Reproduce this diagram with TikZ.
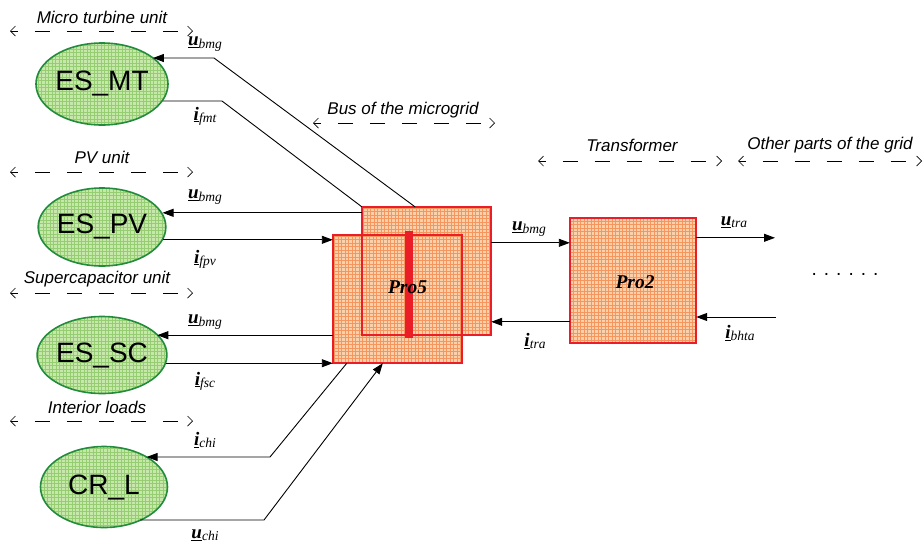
\documentclass[tikz,border=0pt]{standalone}
\usepackage{fontspec}
\setmainfont{Liberation Sans}
\newfontfamily\serifx{Liberation Serif}
\usetikzlibrary{shapes.geometric,arrows.meta,calc}
\definecolor{ellfill}{RGB}{198,232,170}
\definecolor{ellgrid}{RGB}{150,205,115}
\definecolor{ellline}{RGB}{35,140,60}
\definecolor{boxfill}{RGB}{252,208,170}
\definecolor{boxgrid}{RGB}{245,150,95}
\definecolor{boxline}{RGB}{235,30,40}
\newcommand\sig[2]{{\serifx\fontsize{19}{19}\selectfont\bfseries\itshape\underline{#1}}{\serifx\fontsize{13.5}{13.5}\selectfont\itshape\raisebox{-0.35ex}{#2}}}
\tikzset{
  ell/.style={ellipse, draw=ellline, line width=1.6pt, fill=ellfill, inner sep=0pt,
    font=\fontsize{28}{28}\selectfont,
    path picture={\draw[ellgrid,line width=0.3pt] (path picture bounding box.south west) grid[step=3.5pt] (path picture bounding box.north east);}},
  pbox/.style={rectangle, fill=boxfill, inner sep=0pt,
    path picture={\draw[boxgrid,line width=0.3pt] (path picture bounding box.south west) grid[step=3.5pt] (path picture bounding box.north east);}},
  pborder/.style={draw=boxline, line width=1.6pt},
  conn/.style={draw, line width=0.9pt},
  arr/.style={conn, -{Triangle[length=11pt,width=8pt]}},
  annot/.style={line width=0.7pt, dash pattern=on 15pt off 17pt, dash phase=8pt,
    {Straight Barb[length=5pt,width=10pt]}-{Straight Barb[length=5pt,width=10pt]}},
  atext/.style={font=\fontsize{17}{17}\selectfont\itshape, inner sep=0pt},
  lbl/.style={inner sep=0pt}
}
\begin{document}
\begin{tikzpicture}[x=1pt,y=-1pt]
\useasboundingbox (0,0) rectangle (924,547);
% ellipses
\node[ell, minimum width=126pt, minimum height=82pt] (MT) at (102,84) {ES\_MT};
\node[ell, minimum width=127pt, minimum height=78pt] (PV) at (102,227) {ES\_PV};
\node[ell, minimum width=127pt, minimum height=77pt] (SC) at (102,355) {ES\_SC};
\node[ell, minimum width=127pt, minimum height=81pt] (CR) at (104,487) {CR\_L};
% boxes
\node[pbox, minimum width=129pt, minimum height=128pt] (P5b) at (426.5,271) {};
\node[pbox, minimum width=129pt, minimum height=128pt] (P5f) at (397.5,299) {};
\node[pbox, minimum width=126pt, minimum height=125pt] (Pro2) at (633,280.5) {};
\draw[pborder] (P5b.south west) rectangle (P5b.north east);
\draw[pborder] (P5f.south west) rectangle (P5f.north east);
\draw[pborder] (Pro2.south west) rectangle (Pro2.north east);
\fill[boxline] (405,231) rectangle (413,338);
\node[lbl, font=\serifx\fontsize{19.5}{19.5}\selectfont\bfseries\itshape] (t5) at (407.5,287) {Pro5};
\node[lbl, font=\serifx\fontsize{19.5}{19.5}\selectfont\bfseries\itshape] (t2) at (635,282) {Pro2};
% annotation arrows
\coordinate (a1l) at (10,31); \coordinate (a1r) at (193,31);
\draw[annot] (a1l) -- (a1r);
\node[atext] (n1) at (102,17) {Micro turbine unit};
\coordinate (a2l) at (10,172); \coordinate (a2r) at (193,172);
\draw[annot] (a2l) -- (a2r);
\node[atext] (n2) at (102,157) {PV unit};
\coordinate (a3l) at (10,293); \coordinate (a3r) at (193,293);
\draw[annot] (a3l) -- (a3r);
\node[atext] (n3) at (97,279) {Supercapacitor unit};
\coordinate (a4l) at (10,421); \coordinate (a4r) at (193,421);
\draw[annot] (a4l) -- (a4r);
\node[atext] (n4) at (97,407) {Interior loads};
\coordinate (a5l) at (313,123); \coordinate (a5r) at (495,123);
\draw[annot] (a5l) -- (a5r);
\node[atext] (n5) at (403,110) {Bus of the microgrid};
\coordinate (a6l) at (538,161); \coordinate (a6r) at (722,161);
\draw[annot] (a6l) -- (a6r);
\node[atext] (n6) at (632,145) {Transformer};
\coordinate (a7l) at (738,161); \coordinate (a7r) at (922,161);
\draw[annot] (a7l) -- (a7r);
\node[atext] (n7) at (830,145) {Other parts of the grid};
% connectors to ES_MT
\coordinate (mt1) at (214,58);
\draw[arr] ([xshift=-11.5pt]P5b.north) -- (mt1) -- (MT.28 |- mt1);
\node[lbl] (l1) at (205,44) {\sig{u}{bmg}};
\coordinate (mt2) at (222,101);
\draw[conn] (MT.-16.5 |- mt2) -- (mt2) -- (P5b.north west);
\node[lbl] (l2) at (205,116) {\sig{i}{fmt}};
% ES_PV
\coordinate (pv1) at ([yshift=-6pt]P5b.north west);
\draw[arr] (pv1) -- (PV.13.4 |- pv1);
\node[lbl] (l3) at (205,197) {\sig{u}{bmg}};
\coordinate (pv2) at ([yshift=-5pt]P5f.north west);
\draw[arr] (PV.-12.3 |- pv2) -- (pv2);
\node[lbl] (l4) at (205,259) {\sig{i}{fpv}};
% ES_SC
\coordinate (sc1) at ([yshift=28pt]P5f.south west);
\draw[arr] (sc1) -- (SC.21.8 |- sc1);
\node[lbl] (l5) at (205,322) {\sig{u}{bmg}};
\coordinate (sc2) at (P5f.south west);
\draw[arr] (SC.-7.4 |- sc2) -- (sc2);
\node[lbl] (l6) at (205,381) {\sig{i}{fsc}};
% CR_L
\coordinate (cr1) at (270,457);
\draw[arr] ([xshift=14pt]P5f.south west) -- (cr1) -- (CR.36 |- cr1);
\node[lbl] (l7) at (205,440) {\sig{i}{chi}};
\coordinate (cr2) at (264,520);
\draw[arr] (CR.-43 |- cr2) -- (cr2) -- ([xshift=50pt]P5f.south west);
\node[lbl] (l8) at (205,535) {\sig{u}{chi}};
% between Pro5 and Pro2
\coordinate (m1) at ([yshift=-36pt]P5b.north east);
\draw[arr] (m1) -- (Pro2.west |- m1);
\node[lbl] (l9) at (529,229) {\sig{u}{bmg}};
\coordinate (m2) at ([yshift=-104pt]Pro2.north west);
\draw[arr] (m2) -- (P5b.east |- m2);
\node[lbl] (l10) at (535,341) {\sig{i}{tra}};
% right side
\coordinate (r1s) at ([yshift=-20pt]Pro2.north east);
\coordinate (r1e) at (775,238);
\draw[arr] (r1s) -- (r1s -| r1e);
\node[lbl] (l11) at (734,222) {\sig{u}{tra}};
\coordinate (r2s) at (776,317);
\draw[arr] (r2s) -- (Pro2.east |- r2s);
\node[lbl] (l12) at (740,333) {\sig{i}{bhta}};
\node[lbl, font=\fontsize{19}{19}\selectfont] (dots) at (845,274) {. . . . . .};
\end{tikzpicture}
\end{document}
